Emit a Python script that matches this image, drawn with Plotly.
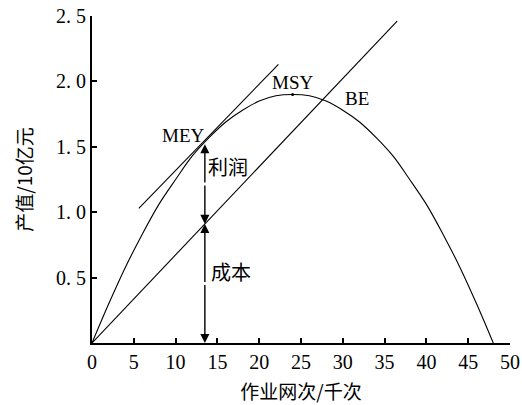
import plotly.graph_objects as go

# Yield (revenue) curve
effort = [0, 2, 4, 6, 8, 10, 12, 14, 16, 18, 20, 22, 24, 26, 28, 30, 32, 34, 36, 38, 40, 42, 44, 46, 48]
revenue = [0, 0.30, 0.58, 0.83, 1.06, 1.25, 1.43, 1.57, 1.69, 1.78, 1.85, 1.89, 1.90, 1.89, 1.85, 1.78, 1.69, 1.57, 1.43, 1.25, 1.06, 0.83, 0.58, 0.30, 0]

# Cost line
cost_x = [0, 36.5]
cost_y = [0, 2.46]

# Tangent line at MEY
tan_x = [5.6, 22.3]
tan_y = [1.03, 2.13]

# Key points
mey_x, mey_y = 13.5, 1.52
cost_at_mey = 0.91
msy_x, msy_y = 24, 1.90

x_ticks = [0, 5, 10, 15, 20, 25, 30, 35, 40, 45, 50]
y_ticks = [0.5, 1.0, 1.5, 2.0, 2.5]
y_ticktext = ["0. 5", "1. 0", "1. 5", "2. 0", "2. 5"]

serif = "Liberation Serif"
cjk = "Noto Sans CJK SC"

fig = go.Figure()
line_style = dict(color="black", width=1.1)
fig.add_trace(go.Scatter(x=effort, y=revenue, mode="lines", line=dict(shape="spline", **line_style), hoverinfo="skip"))
fig.add_trace(go.Scatter(x=cost_x, y=cost_y, mode="lines", line=line_style, hoverinfo="skip"))
fig.add_trace(go.Scatter(x=tan_x, y=tan_y, mode="lines", line=line_style, hoverinfo="skip"))
fig.add_trace(go.Scatter(x=[msy_x], y=[msy_y], mode="markers", marker=dict(color="black", size=3), hoverinfo="skip"))

# Double arrows
def arrow(x, y, ay):
    fig.add_annotation(x=x, y=y, ax=x, ay=ay, xref="x", yref="y", axref="x", ayref="y",
                       showarrow=True, arrowhead=2, arrowsize=1.3, arrowwidth=1.4,
                       arrowcolor="black", text="")

mid1 = (mey_y + cost_at_mey) / 2
arrow(mey_x, mey_y, mid1)
arrow(mey_x, cost_at_mey, mid1)
mid2 = cost_at_mey / 2
arrow(mey_x, cost_at_mey, mid2)
arrow(mey_x, 0, mid2)

labels = [
    (10.9, 1.59, "MEY", serif, 19),
    (24.0, 1.99, "MSY", serif, 19),
    (31.7, 1.87, "BE", serif, 19),
    (16.3, 1.35, "利润", cjk, 20),
    (16.6, 0.55, "成本", cjk, 20),
]
for lx, ly, t, f, s in labels:
    fig.add_annotation(x=lx, y=ly, text=t, showarrow=False, xref="x", yref="y",
                       font=dict(family=f, size=s, color="black"))

fig.update_layout(
    width=522, height=405,
    margin=dict(l=92, r=12, t=16, b=62, autoexpand=False),
    plot_bgcolor="white", paper_bgcolor="white",
    showlegend=False,
    font=dict(family=serif, color="black", size=19),
)
fig.update_xaxes(
    range=[0, 50], tickvals=x_ticks, ticktext=[str(v) for v in x_ticks],
    ticks="inside", ticklen=5, tickwidth=1.5, tickcolor="black",
    showline=True, linecolor="black", linewidth=2, showgrid=False, zeroline=False,
    tickfont=dict(family=serif, size=20), automargin=False,
    title=dict(text="作业网次/千次", font=dict(family=cjk, size=19), standoff=14),
)
fig.update_yaxes(
    range=[0, 2.5], tickvals=y_ticks, ticktext=y_ticktext,
    ticks="inside", ticklen=5, tickwidth=1.5, tickcolor="black",
    showline=True, linecolor="black", linewidth=2, showgrid=False, zeroline=False,
    tickfont=dict(family=serif, size=20), automargin=False,
    title=dict(text="产值/10亿元", font=dict(family=cjk, size=19), standoff=18),
)

fig.write_html("out.html")
